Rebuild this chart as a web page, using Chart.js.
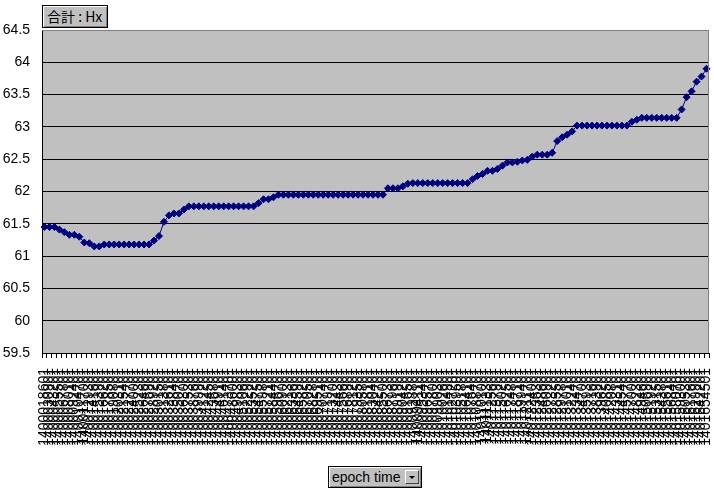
<!DOCTYPE html>
<html>
<head>
<meta charset="utf-8">
<script src="https://cdn.jsdelivr.net/npm/chart.js@4/dist/chart.umd.min.js"></script>
<style>
  body { margin: 0; background: #fff; }
  #wrap { position: relative; width: 714px; height: 493px; }
  .pbtn {
    position: absolute; background: #c0c0c0; box-sizing: border-box;
    border: 1px solid #000; box-shadow: inset 1px 1px 0 #fff, inset -1px -1px 0 #808080;
    font-family: "Noto Sans CJK JP", "Liberation Sans", sans-serif; font-size: 14px; line-height: 20px;
    color: #000; white-space: nowrap;
  }
  #field { left: 42px; top: 5px; width: 66px; height: 23px; padding-left: 4px; }
  #epoch { left: 328px; top: 466px; width: 94px; height: 22px; padding-left: 3px; font-family: "Liberation Sans", sans-serif; }
  #epoch .arrow {
    position: absolute; right: 2px; top: 3px; width: 14px; height: 14px; background: #c0c0c0;
    border: 1px solid #fff; border-right-color: #404040; border-bottom-color: #404040; box-sizing: border-box;
  }
  #epoch .arrow:after {
    content: ""; position: absolute; left: 3px; top: 5px;
    border-left: 3px solid transparent; border-right: 3px solid transparent; border-top: 3px solid #000;
  }
</style>
</head>
<body>
<div id="wrap">
  <canvas id="chart" width="714" height="493"></canvas>
  <div class="pbtn" id="field">合計 : Hx</div>
  <div class="pbtn" id="epoch">epoch time<span class="arrow"></span></div>
</div>
<script>
// epoch time labels (illegible in the source, estimated)
const epochLabels = [
  '1400018601','1400030901','1400043201','1400055501','1400067801','1400080101','1400092401','1400104701','1400117001','1400129301',
  '1400141601','1400153901','1400166201','1400178501','1400190801','1400203101','1400215401','1400227701','1400240001','1400252301',
  '1400264601','1400276901','1400289201','1400301501','1400313801','1400326101','1400338401','1400350701','1400363001','1400375301',
  '1400387601','1400399901','1400412201','1400424501','1400436801','1400449101','1400461401','1400473701','1400486001','1400498301',
  '1400510601','1400522901','1400535201','1400547501','1400559801','1400572101','1400584401','1400596701','1400609001','1400621301',
  '1400633601','1400645901','1400658201','1400670501','1400682801','1400695101','1400707401','1400719701','1400732001','1400744301',
  '1400756601','1400768901','1400781201','1400793501','1400805801','1400818101','1400830401','1400842701','1400855001','1400867301',
  '1400879601','1400891901','1400904201','1400916501','1400928801','1400941101','1400953401','1400965701','1400978001','1400990301',
  '1401002601','1401014901','1401027201','1401039501','1401051801','1401064101','1401076401','1401088701','1401101001','1401113301',
  '1401125601','1401137901','1401150201','1401162501','1401174801','1401187101','1401199401','1401211701','1401224001','1401236301',
  '1401248601','1401260901','1401273201','1401285501','1401297801','1401310101','1401322401','1401334701','1401347001','1401359301',
  '1401371601','1401383901','1401396201','1401408501','1401420801','1401433101','1401445401','1401457701','1401470001','1401482301',
  '1401494601','1401506901','1401519201','1401531501','1401543801','1401556101','1401568401','1401580701','1401593001','1401605301',
  '1401617601','1401629901','1401642201','1401654501'
];

// 合計 : Hx
const hxValues = [
  61.45, 61.45, 61.45, 61.41, 61.37, 61.33, 61.33, 61.30, 61.21, 61.20,
  61.15, 61.15, 61.18, 61.18, 61.18, 61.18, 61.18, 61.18, 61.18, 61.18,
  61.18, 61.18, 61.24, 61.31, 61.53, 61.63, 61.66, 61.66, 61.72, 61.77,
  61.77, 61.77, 61.77, 61.77, 61.77, 61.77, 61.77, 61.77, 61.77, 61.77,
  61.77, 61.77, 61.77, 61.82, 61.88, 61.88, 61.91, 61.95, 61.95, 61.95,
  61.95, 61.95, 61.95, 61.95, 61.95, 61.95, 61.95, 61.95, 61.95, 61.95,
  61.95, 61.95, 61.95, 61.95, 61.95, 61.95, 61.95, 61.95, 61.95, 62.05,
  62.05, 62.05, 62.08, 62.12, 62.13, 62.13, 62.13, 62.13, 62.13, 62.13,
  62.13, 62.13, 62.13, 62.13, 62.13, 62.13, 62.19, 62.24, 62.27, 62.32,
  62.32, 62.35, 62.40, 62.45, 62.45, 62.46, 62.48, 62.49, 62.54, 62.57,
  62.57, 62.57, 62.60, 62.78, 62.84, 62.88, 62.93, 63.02, 63.02, 63.02,
  63.02, 63.02, 63.02, 63.02, 63.02, 63.02, 63.02, 63.02, 63.08, 63.11,
  63.14, 63.14, 63.14, 63.14, 63.14, 63.14, 63.14, 63.14, 63.27, 63.46,
  63.55, 63.70, 63.78, 63.90
];

const yMin = 59.5;
const yMax = 64.5;

// gray plot area with gray top/right edge, like the Excel pivot chart
const plotArea = {
  id: 'plotArea',
  beforeDraw(chart) {
    const { ctx, chartArea: a } = chart;
    ctx.save();
    ctx.fillStyle = '#c0c0c0';
    ctx.fillRect(a.left, a.top, a.right - a.left, a.bottom - a.top);
    ctx.restore();
  },
  afterDraw(chart) {
    const { ctx, chartArea: a } = chart;
    ctx.save();
    ctx.strokeStyle = '#808080';
    ctx.lineWidth = 1;
    ctx.beginPath();
    ctx.moveTo(a.left, a.top + 0.5);
    ctx.lineTo(a.right - 0.5, a.top + 0.5);
    ctx.lineTo(a.right - 0.5, a.bottom);
    ctx.stroke();
    ctx.restore();
  }
};

new Chart(document.getElementById('chart'), {
  type: 'line',
  data: {
    labels: epochLabels,
    datasets: [{
      label: '合計 : Hx',
      data: hxValues,
      borderColor: '#000080',
      borderWidth: 1,
      backgroundColor: '#000080',
      pointStyle: 'rectRot',
      pointRadius: 3.5,
      pointBorderWidth: 1,
      pointBorderColor: '#000080',
      tension: 0
    }]
  },
  options: {
    responsive: false,
    animation: false,
    layout: { padding: { top: 30, right: 5, left: 0, bottom: 0 } },
    plugins: { legend: { display: false }, tooltip: { enabled: false } },
    scales: {
      x: {
        offset: true,
        afterFit(scale) {
          scale.height = 140;
          scale.paddingLeft = 0;
          scale.paddingRight = 0;
        },
        grid: { offset: true, drawOnChartArea: false, color: '#000', tickLength: 5 },
        border: { color: '#000', width: 1 },
        ticks: {
          autoSkip: false, minRotation: 90, maxRotation: 90, padding: 10,
          color: '#000', font: { family: 'Liberation Sans', size: 14 }
        }
      },
      y: {
        min: yMin, max: yMax,
        afterFit(scale) { scale.width = 42; },
        grid: {
          color: ctx => (ctx.tick && ctx.tick.value === yMax ? 'rgba(0,0,0,0)' : '#000'),
          drawTicks: false
        },
        border: { color: '#000', width: 1 },
        ticks: {
          stepSize: 0.5, padding: 12, color: '#000',
          font: { family: 'Liberation Sans', size: 14 },
          callback: v => String(Math.round(v * 10) / 10)
        }
      }
    }
  },
  plugins: [plotArea]
});
</script>
</body>
</html>
